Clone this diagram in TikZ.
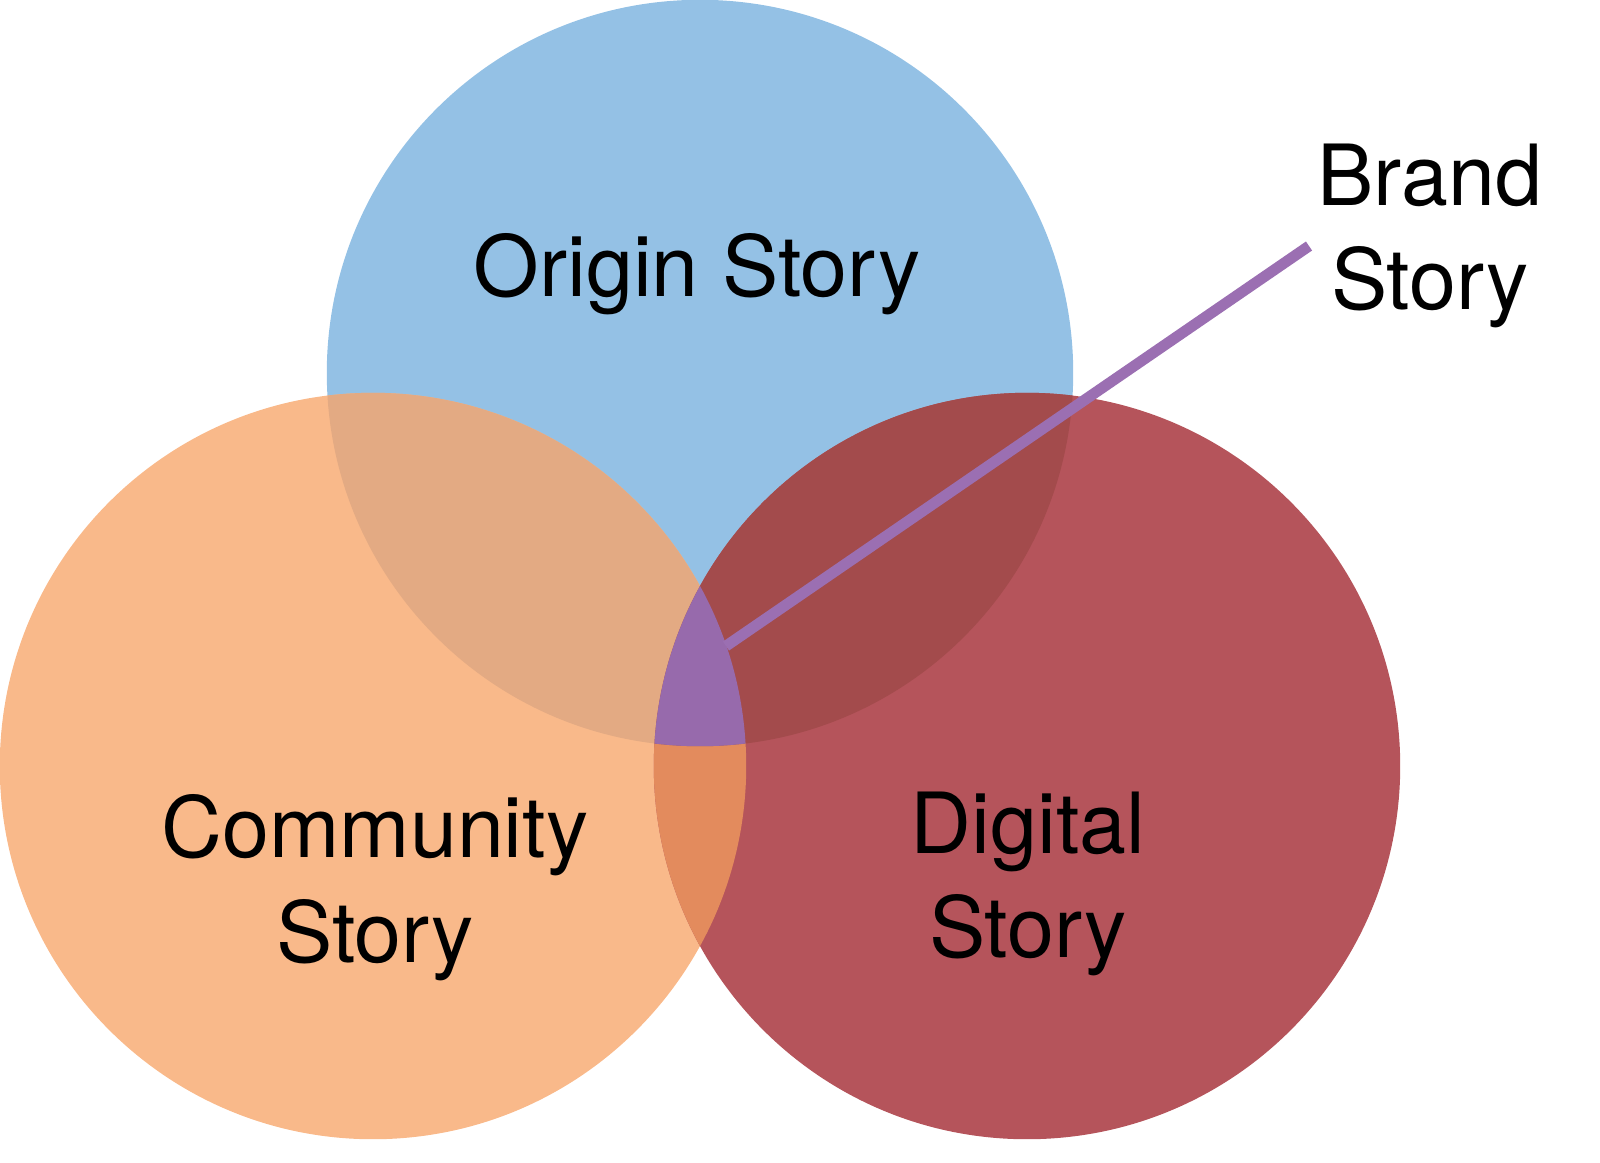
\documentclass[tikz,border=0pt]{standalone}
\usepackage{fontspec}
\setmainfont{TeX Gyre Heros}
\usepackage{tikz}
\usetikzlibrary{positioning}
\usetikzlibrary{calc}
\definecolor{originblue}{RGB}{148,193,229}
\definecolor{commorange}{RGB}{249,185,138}
\definecolor{digitalred}{RGB}{181,84,91}
\definecolor{oc}{RGB}{227,170,131}
\definecolor{od}{RGB}{163,75,76}
\definecolor{cd}{RGB}{227,139,93}
\definecolor{brandpurple}{RGB}{151,106,172}
\definecolor{brandline}{RGB}{155,111,178}
\tikzstyle{storylabel}=[font=\fontsize{24}{29.8}\selectfont,align=center,inner sep=0pt]
\tikzstyle{brandedge} = [draw,line width=3.1pt,brandline]

\begin{document}
\begin{tikzpicture}[x=0.01cm, y=-0.01cm]
\useasboundingbox (0,0) rectangle (1600,1162);
\def\rr{3.73cm}

%circles
    \coordinate (O) at (700,373);
    \coordinate (C) at (373,766);
    \coordinate (D) at (1027,766);
  \foreach \name/\col in {O/originblue, C/commorange, D/digitalred}
        \fill[\col] (\name) circle (\rr);

    % overlaps of two circles
   \foreach \one/ \two /\col in {C/D/cd, O/C/oc, O/D/od}
   {
     \begin{scope}
       \clip (\one) circle (\rr);
       \fill[\col] (\two) circle (\rr);
     \end{scope}
   }

    % all three
   \begin{scope}
     \clip (O) circle (\rr);
     \clip (C) circle (\rr);
     \fill[brandpurple] (D) circle (\rr);
   \end{scope}

    % labels
    \node[storylabel] (origin) at (697,274) {Origin Story};
    \node[storylabel] (community) at (375,888) {Community\\Story};
    \node[storylabel] (digital) at (1028,884) {Digital\\Story};
    \node[storylabel] (brand) at (1430,236) {Brand\\Story};

    \coordinate (bx) at (726,646);
    \coordinate (bs) at (1309,246);
    \path[brandedge] (bx) -- (bs);

   \end{tikzpicture}
\end{document}
